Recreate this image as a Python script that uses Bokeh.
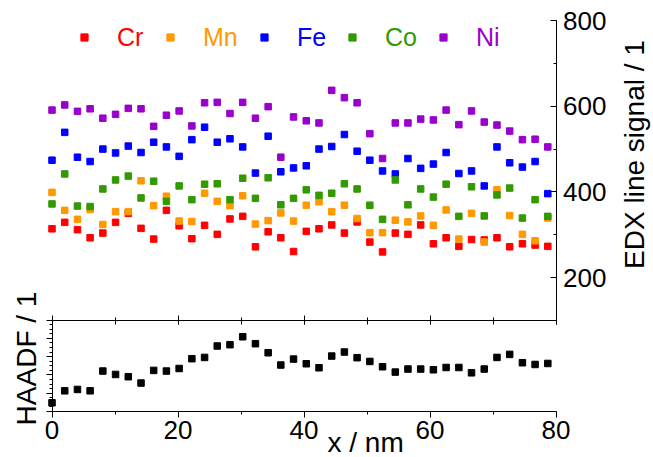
from bokeh.plotting import figure
from bokeh.models import (Legend, LegendItem, Label, SingleIntervalTicker,
                          LinearAxis, Range1d)
from bokeh.embed import file_html
from bokeh.resources import INLINE

# ---------------- data ----------------
x_nm = [0.00, 2.02, 4.04, 6.05, 8.07, 10.09, 12.11, 14.13, 16.14, 18.16,
        20.18, 22.20, 24.22, 26.23, 28.25, 30.27, 32.29, 34.31, 36.32, 38.34,
        40.36, 42.38, 44.40, 46.41, 48.43, 50.45, 52.47, 54.49, 56.50, 58.52,
        60.54, 62.56, 64.58, 66.59, 68.61, 70.63, 72.65, 74.67, 76.68, 78.70]

cr = [314, 329, 312, 293, 304, 329, 350, 315, 290, 357,
      321, 291, 322, 301, 337, 343, 272, 307, 293, 261,
      308, 314, 323, 304, 330, 283, 260, 304, 301, 323,
      279, 293, 273, 289, 288, 293, 272, 279, 276, 273]
mn = [399, 357, 336, 359, 324, 354, 354, 426, 368, 390,
      332, 331, 397, 378, 368, 391, 325, 333, 351, 332,
      369, 377, 354, 369, 338, 305, 305, 334, 330, 344,
      322, 358, 290, 350, 283, 405, 345, 301, 286, 339]
fe = [474, 539, 481, 471, 500, 491, 507, 492, 516, 505,
      483, 522, 551, 516, 524, 505, 444, 530, 447, 456,
      461, 500, 506, 534, 495, 474, 449, 442, 478, 455,
      465, 492, 443, 449, 414, 505, 468, 458, 471, 396]
co = [372, 442, 367, 366, 407, 428, 437, 386, 425, 378,
      414, 382, 418, 419, 382, 432, 385, 433, 370, 385,
      405, 392, 397, 419, 407, 369, 336, 428, 370, 407,
      388, 418, 343, 412, 344, 393, 409, 339, 382, 343]
ni = [591, 603, 588, 594, 572, 581, 595, 594, 553, 579,
      589, 554, 608, 609, 583, 609, 572, 599, 481, 575,
      566, 561, 637, 620, 608, 536, 478, 561, 561, 570,
      568, 591, 557, 589, 563, 556, 542, 522, 523, 505]
haadf = [9.5, 22.6, 24.1, 22.6, 44.2, 40.5, 38.0, 31.1, 44.9, 44.2,
         47.0, 57.7, 59.1, 71.6, 73.0, 81.7, 74.1, 64.2, 50.8, 57.3,
         52.2, 47.8, 60.6, 65.0, 58.8, 54.7, 48.9, 43.1, 46.4, 46.4,
         45.6, 48.1, 48.1, 42.3, 46.4, 59.1, 62.4, 53.3, 51.4, 52.5]

elements = ["Cr", "Mn", "Fe", "Co", "Ni"]
series = [cr, mn, fe, co, ni]
colors = ["#ff0000", "#ff9900", "#0000ff", "#339900", "#9900cc"]

x_lim = (0, 80)
edx_lim = (100, 800)
haadf_lim = (0, 100)

# ---------------- layout (pixels from top-left of the canvas) ----------------
FONT = "Liberation Sans"
CW, CH = 653, 457
X0_PX, X1_PX = 51.5, 555.5          # where x = 0 and x = 80 sit
EDX_T_PX, EDX_B_PX = 20.0, 320.0    # where 800 and 100 sit (upper panel)
HA_T_PX, HA_B_PX = 319.5, 411.0     # where 100 and 0 sit (lower panel)
legend_left = [75, 161, 255, 343, 434]
legend_bottom = 51.5

kx = (X1_PX - X0_PX) / (x_lim[1] - x_lim[0])
ke = (EDX_B_PX - EDX_T_PX) / (edx_lim[1] - edx_lim[0])
kh = (HA_B_PX - HA_T_PX) / (haadf_lim[1] - haadf_lim[0])

x_range = Range1d(x_lim[0] - X0_PX / kx, x_lim[0] + (CW - X0_PX) / kx)
edx_range = Range1d(edx_lim[0] - (CH - EDX_B_PX) / ke, edx_lim[1] + EDX_T_PX / ke)
haadf_range = Range1d(haadf_lim[0] - (CH - HA_B_PX) / kh, haadf_lim[1] + HA_T_PX / kh)

p = figure(width=CW, height=CH, x_range=x_range, y_range=edx_range,
           output_backend="svg", toolbar_location=None,
           x_axis_location=None, y_axis_location=None, min_border=0)
p.extra_y_ranges = {"haadf": haadf_range}
p.outline_line_color = None
for g in p.grid:
    g.visible = False
p.background_fill_color = "white"
p.border_fill_color = "white"

# ---------------- glyphs ----------------
renderers = []
for name, vals, col in zip(elements, series, colors):
    r = p.scatter(x_nm, vals, marker="square", size=6.5, color=col)
    renderers.append(r)

p.scatter(x_nm, haadf, marker="square", size=6.5, color="black",
          y_range_name="haadf")

# ---------------- axes ----------------
edx_axis = LinearAxis(fixed_location=x_lim[1], bounds=edx_lim,
                      ticker=SingleIntervalTicker(interval=200, num_minor_ticks=2))
edx_axis.major_tick_in = 6
edx_axis.major_tick_out = 0
edx_axis.minor_tick_in = 3
edx_axis.minor_tick_out = 0
edx_axis.major_label_standoff = 7
edx_axis.major_label_text_font = FONT
edx_axis.major_label_text_font_size = "26px"
edx_axis.major_label_text_color = "black"
p.add_layout(edx_axis, "right")

ha_axis = LinearAxis(y_range_name="haadf", fixed_location=x_lim[0], bounds=haadf_lim,
                     ticker=SingleIntervalTicker(interval=20, num_minor_ticks=4))
ha_axis.major_tick_out = 6
ha_axis.major_tick_in = 0
ha_axis.minor_tick_out = 3
ha_axis.minor_tick_in = 0
ha_axis.major_label_text_color = None
p.add_layout(ha_axis, "left")

bx = LinearAxis(y_range_name="haadf", fixed_location=haadf_lim[0], bounds=x_lim,
                ticker=SingleIntervalTicker(interval=20, num_minor_ticks=2))
bx.major_tick_out = 6
bx.major_tick_in = 0
bx.minor_tick_out = 3
bx.minor_tick_in = 0
bx.major_label_standoff = 3
bx.major_label_text_font = FONT
bx.major_label_text_font_size = "26px"
bx.major_label_text_color = "black"
p.add_layout(bx, "below")

tx = LinearAxis(y_range_name="haadf", fixed_location=haadf_lim[1], bounds=x_lim,
                ticker=SingleIntervalTicker(interval=20, num_minor_ticks=2))
tx.major_tick_out = 5
tx.major_tick_in = 4
tx.minor_tick_out = 3
tx.minor_tick_in = 4
tx.major_label_text_color = None
p.add_layout(tx, "above")

# ---------------- legend (one per element, coloured text) ----------------
for name, r, col, lx in zip(elements, renderers, colors, legend_left):
    leg = Legend(items=[LegendItem(label=name, renderers=[r])],
                 location=(lx, CH - legend_bottom), orientation="horizontal",
                 padding=0, margin=0, spacing=0,
                 glyph_width=18, glyph_height=18, label_standoff=24,
                 label_text_font=FONT, label_text_font_size="25px",
                 label_text_color=col, border_line_color=None,
                 background_fill_alpha=0)
    p.add_layout(leg)

# ---------------- axis titles ----------------
p.add_layout(Label(x=634, y=CH - 154, x_units="screen", y_units="screen",
                   text="EDX line signal / 1", angle=90, angle_units="deg",
                   text_align="center", text_baseline="alphabetic",
                   text_font=FONT, text_font_size="28px", text_color="black"))
p.add_layout(Label(x=26, y=CH - 358, x_units="screen", y_units="screen",
                   text="HAADF / 1", angle=90, angle_units="deg",
                   text_align="center", text_baseline="alphabetic",
                   text_font=FONT, text_font_size="28px", text_color="black"))
p.add_layout(Label(x=327, y=CH - 442, x_units="screen", y_units="screen",
                   text="x / nm", text_align="left", text_baseline="alphabetic",
                   text_font=FONT, text_font_size="28px", text_color="black"))

open("out.html", "w").write(file_html(p, INLINE))
